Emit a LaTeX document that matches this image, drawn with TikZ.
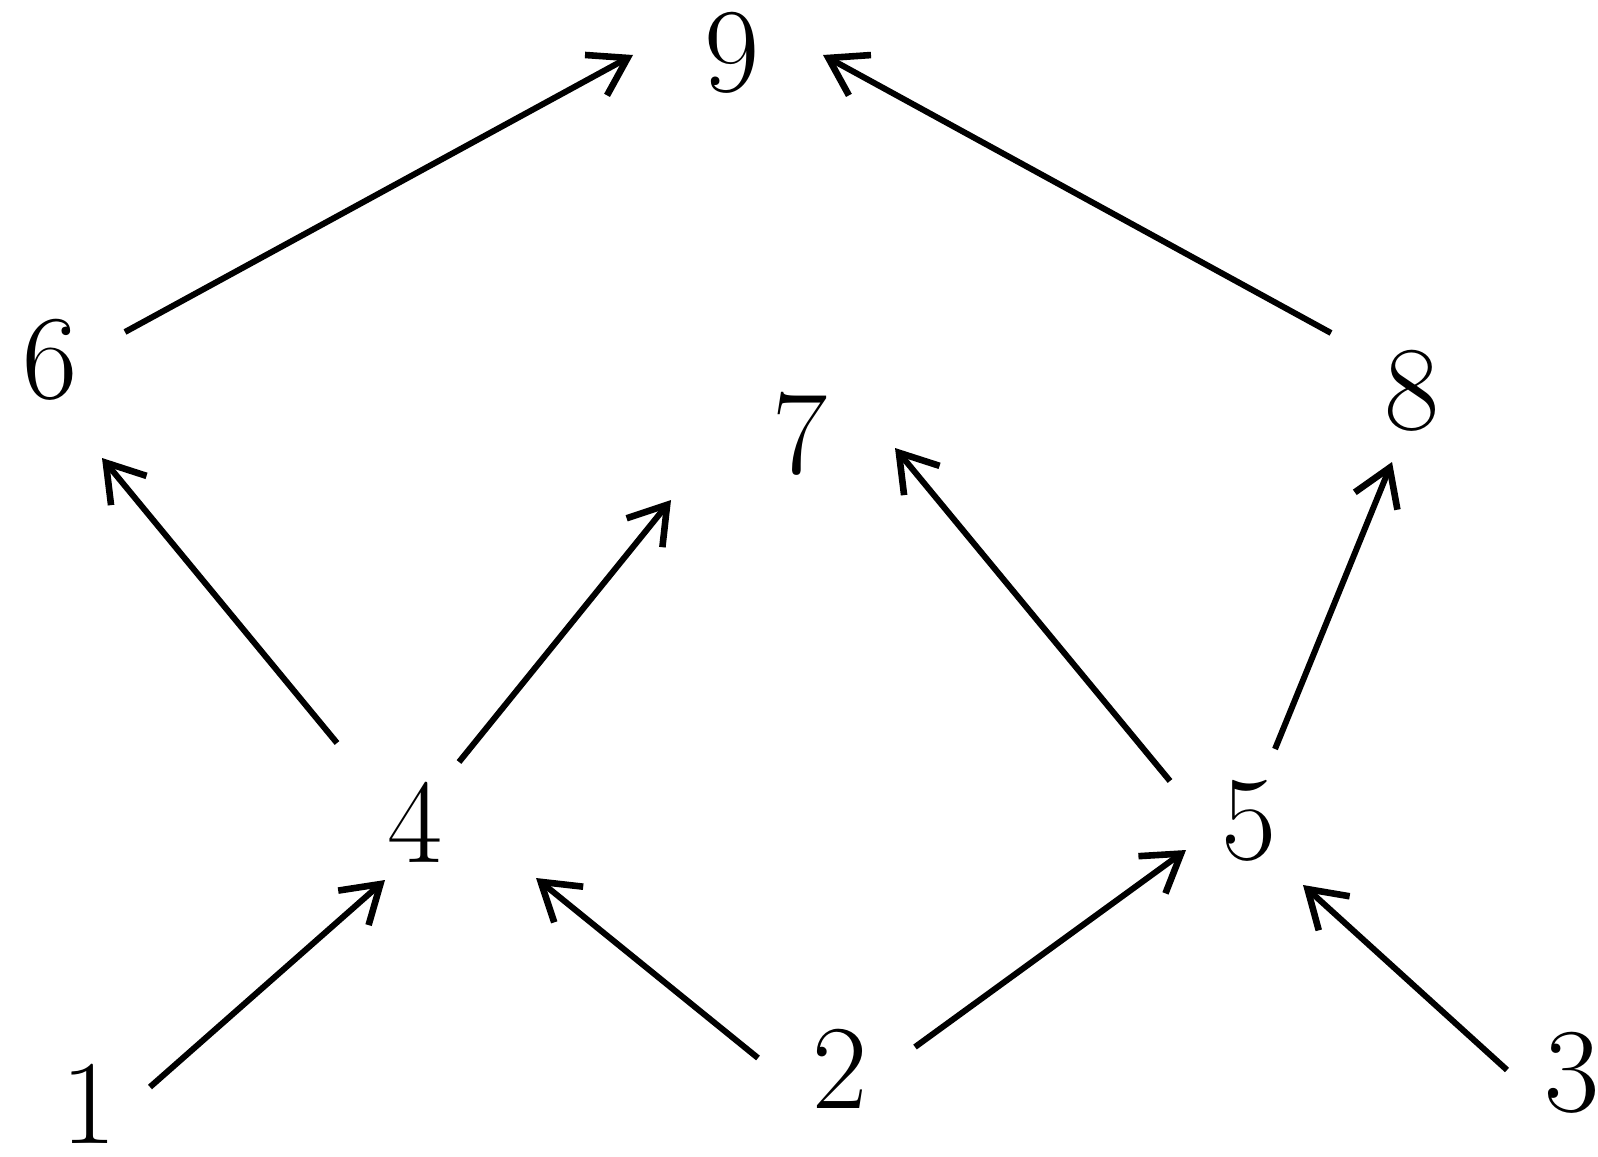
\documentclass[tikz,border=0pt]{standalone}
\usetikzlibrary{arrows.meta,calc}
\begin{document}
\begin{tikzpicture}[x=0.5pt,y=-0.5pt,
  num/.style={inner sep=0pt,font=\fontsize{60}{72}\selectfont},
  arr/.style={line width=3pt,-{Straight Barb[length=18pt,width=23pt,line width=3.3pt]}}]
\useasboundingbox (0,0) rectangle (1598,1156);
\node[num] (n9) at (732,53) {9};
\node[num] (n6) at (50,360) {6};
\node[num] (n7) at (800,434) {7};
\node[num] (n8) at (1412,391) {8};
\node[num] (n4) at (415,822) {4};
\node[num] (n5) at (1249,821) {5};
\node[num] (n1) at (89,1104) {1};
\node[num] (n2) at (840,1069) {2};
\node[num] (n3) at (1572,1073) {3};
\draw[arr] ($(n6)+(75,-28)$) -- ($(n9)+(-99,2)$);
\draw[arr] ($(n8)+(-81,-58)$) -- ($(n9)+(91,2)$);
\draw[arr] ($(n4)+(-78,-79)$) -- ($(n6)+(52,98)$);
\draw[arr] ($(n4)+(44,-60)$) -- ($(n7)+(-129,66)$);
\draw[arr] ($(n5)+(-79,-40)$) -- ($(n7)+(95,14)$);
\draw[arr] ($(n5)+(26,-72)$) -- ($(n8)+(-20,71)$);
\draw[arr] ($(n1)+(61,-17)$) -- ($(n4)+(-30,58)$);
\draw[arr] ($(n2)+(-82,-11)$) -- ($(n4)+(121,56)$);
\draw[arr] ($(n2)+(75,-22)$) -- ($(n5)+(-63,29)$);
\draw[arr] ($(n3)+(-65,-3)$) -- ($(n5)+(54,64)$);
\end{tikzpicture}
\end{document}
